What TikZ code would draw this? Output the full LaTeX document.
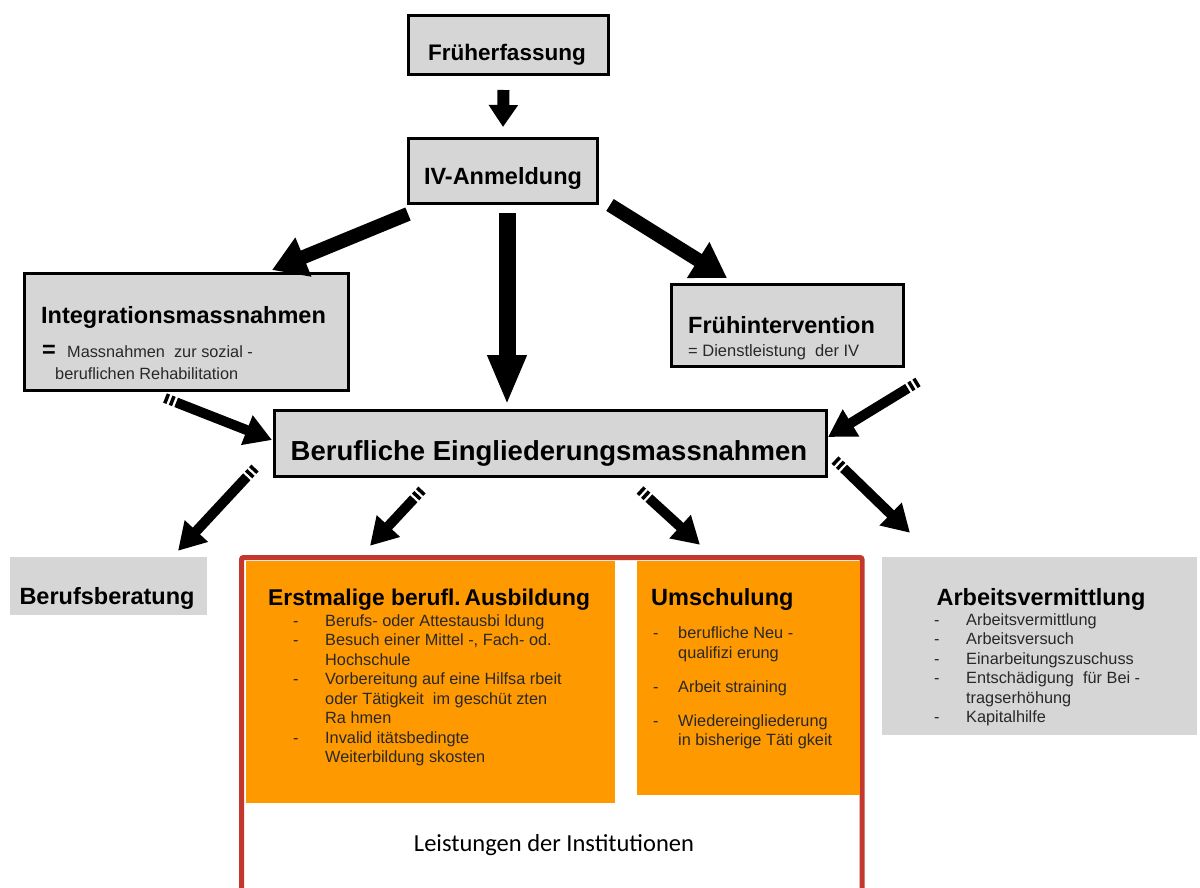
\documentclass[tikz,border=0pt]{standalone}
\usepackage{fontspec}
\setmainfont{Liberation Sans}
\newfontfamily\calib{Carlito}
\usetikzlibrary{arrows.meta,calc}
\definecolor{boxgrey}{RGB}{214,214,214}
\definecolor{orng}{RGB}{255,153,0}
\definecolor{redframe}{RGB}{195,55,45}
\definecolor{txtdark}{RGB}{40,40,40}
\tikzset{
  gbox/.style={draw=black, line width=3pt, fill=boxgrey, inner sep=0pt},
  flatgrey/.style={fill=boxgrey, inner sep=0pt},
  obox/.style={fill=orng, inner sep=0pt},
  ttl/.style={font=\fontsize{23.5}{27}\selectfont\bfseries, inner sep=0pt},
  bl/.style={font=\fontsize{16.3}{19}\selectfont, text=txtdark, inner sep=0pt, anchor=base west},
  blk/.style n args={3}{line width=#1, draw=black, -{Triangle[width=#2,length=#3]}},
  dsh/.style={line width=10pt, draw=black, -{Triangle[width=30pt,length=27pt]},
    dash pattern=on 3.5pt off 2.5pt on 3.5pt off 2.5pt on 400pt},
}
\begin{document}
\begin{tikzpicture}[x=1pt,y=-1pt]
\useasboundingbox[fill=white] (0,0) rectangle (1200,888);

% top boxes
\node[gbox, minimum width=200pt, minimum height=59pt] (frueh) at (508.5,45) {};
\node[ttl, font=\fontsize{22.5}{26}\selectfont\bfseries] (fruehT) at (507,55) {Früherfassung};
\node[gbox, minimum width=189pt, minimum height=65pt] (iv) at (503,171) {};
\node[ttl] (ivT) at (503,178) {IV-Anmeldung};

% Integrationsmassnahmen
\node[gbox, minimum width=324pt, minimum height=117pt] (integ) at (186.5,332) {};
\node[ttl, anchor=base west] (integT) at (41,323) {Integrationsmassnahmen};
\node[ttl, anchor=base west] (integEq) at (42,357) {=};
\node[bl] (integS1) at (67,357) {Massnahmen\ \ zur sozial -};
\node[bl] (integS2) at (55,379) {beruflichen Rehabilitation};

% Fruehintervention
\node[gbox, minimum width=232pt, minimum height=82pt] (fint) at (787.5,325.5) {};
\node[ttl, anchor=base west] (fintT) at (688,333) {Frühintervention};
\node[bl, font=\fontsize{16.5}{19}\selectfont] (fintS) at (688,356) {= Dienstleistung\ \ der IV};

% Berufliche Eingliederungsmassnahmen
\node[gbox, minimum width=552pt, minimum height=66pt] (be) at (550.5,443.5) {};
\node[ttl, font=\fontsize{27.5}{31}\selectfont\bfseries] (beT) at (549,453) {Berufliche Eingliederungsmassnahmen};

% bottom row
\node[flatgrey, minimum width=197pt, minimum height=58pt] (berat) at (108.5,586) {};
\node[ttl] (beratT) at (107,598) {Berufsberatung};

\draw[redframe, line width=5pt, rounded corners=2pt] (241.5,900) -- (241.5,557.5) -- (862,557.5) -- (862,900);

\node[obox, minimum width=369pt, minimum height=242pt] (erst) at (430.5,682) {};
\node[obox, minimum width=223pt, minimum height=234pt] (umsch) at (748.5,678) {};
\node[flatgrey, minimum width=315pt, minimum height=178pt] (arb) at (1039.5,646) {};

\node[ttl, font=\fontsize{22.8}{27}\selectfont\bfseries, anchor=base west] (erstT) at (268,605) {Erstmalige berufl.\,Ausbildung};
\node[bl] (ed1) at (293,626) {-};
\node[bl] (e1) at (325,626) {Berufs- oder Attestausbi ldung};
\node[bl] (ed2) at (293,645.5) {-};
\node[bl] (e2) at (325,645.5) {Besuch einer Mittel -, Fach- od.};
\node[bl] (e3) at (325,665) {Hochschule};
\node[bl] (ed4) at (293,684.5) {-};
\node[bl] (e4) at (325,684.5) {Vorbereitung auf eine Hilfsa rbeit};
\node[bl] (e5) at (325,704) {oder Tätigkeit\ \ im geschüt zten};
\node[bl] (e6) at (325,723.5) {Ra hmen};
\node[bl] (ed7) at (293,743) {-};
\node[bl] (e7) at (325,743) {Invalid itätsbedingte};
\node[bl] (e8) at (325,762.5) {Weiterbildung skosten};

\node[ttl, anchor=base west] (umschT) at (651,605) {Umschulung};
\node[bl] (ud1) at (653,638) {-};
\node[bl] (u1) at (678,638) {berufliche Neu -};
\node[bl] (u2) at (678,658) {qualifizi erung};
\node[bl] (ud3) at (653,692) {-};
\node[bl] (u3) at (678,692) {Arbeit straining};
\node[bl] (ud4) at (653,726) {-};
\node[bl] (u4) at (678,726) {Wiedereingliederung};
\node[bl] (u5) at (678,745) {in bisherige Täti gkeit};

\node[ttl, anchor=base] (arbT) at (1041,605) {Arbeitsvermittlung};
\node[bl] (ad1) at (934,625) {-};
\node[bl] (a1) at (966,625) {Arbeitsvermittlung};
\node[bl] (ad2) at (934,644.5) {-};
\node[bl] (a2) at (966,644.5) {Arbeitsversuch};
\node[bl] (ad3) at (934,664) {-};
\node[bl] (a3) at (966,664) {Einarbeitungszuschuss};
\node[bl] (ad4) at (934,683.5) {-};
\node[bl] (a4) at (966,683.5) {Entschädigung\ \ für Bei -};
\node[bl] (a5) at (966,703) {tragserhöhung};
\node[bl] (ad6) at (934,722.5) {-};
\node[bl] (a6) at (966,722.5) {Kapitalhilfe};

\node[font=\calib\fontsize{24.5}{28}\selectfont, inner sep=0pt] (leist) at (554,845) {Leistungen der Institutionen};

% solid block arrows
\draw[blk={12pt}{28pt}{22pt}] ($(frueh.south)+(-5,14)$) -- ($(iv.north)+(0,-10)$);
\draw[blk={14pt}{40pt}{34pt}] ($(iv.south west)+(1,9)$) -- ($(integ.north)+(85.5,-2)$);
\draw[blk={17pt}{36pt}{50pt}] ($(iv.south)+(4,8)$) -- ($(be.north)+(-43.5,-4)$);
\draw[blk={14pt}{40pt}{34pt}] ($(iv.south east)+(11,0)$) -- ($(fint.north west)+(57,-5)$);

% striped arrows
\draw[dsh] ($(integ.south)+(-21.5,6)$) -- ($(be.west)+(-1,-3.5)$);
\draw[dsh] ($(fint.south east)+(13,14)$) -- ($(be.east)+(0,-6.5)$);
\draw[dsh] ($(be.south west)+(-18,-10)$) -- ($(berat.north)+(69.5,-6)$);
\draw[dsh] ($(be.south)+(-128.5,12)$) -- ($(erst.north)+(-60.5,-15)$);
\draw[dsh] ($(be.south)+(89.5,12)$) -- ($(umsch.north)+(-48.5,-16)$);
\draw[dsh] ($(be.east)+(7,16.5)$) -- ($(arb.north)+(-129.5,-24)$);
\end{tikzpicture}
\end{document}
